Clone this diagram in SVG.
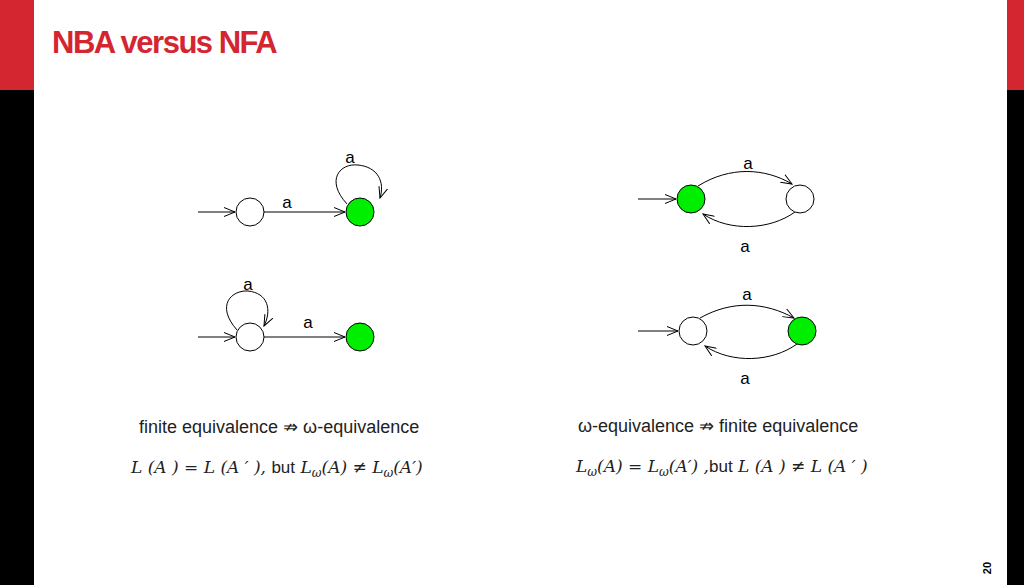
<svg xmlns="http://www.w3.org/2000/svg" width="1024" height="585" viewBox="0 0 1024 585">
<style>
.st{fill:#fff;stroke:#000;stroke-width:1}
.acc{fill:#00ee00;stroke:#000;stroke-width:1}
.e{fill:none;stroke:#000;stroke-width:1;marker-end:url(#ah)}
.lb{font-family:"Liberation Sans",Arial,sans-serif;font-size:17px;fill:#000;text-anchor:middle}
.tx{font-family:"Liberation Sans",Arial,sans-serif;font-size:18px;fill:#222}
.m{font-family:"DejaVu Serif","Liberation Serif",serif;font-style:italic;font-size:17px;fill:#222}
</style>
<defs>
<marker id="ah" viewBox="0 0 12 10" refX="11" refY="5" markerWidth="12" markerHeight="10" markerUnits="userSpaceOnUse" orient="auto">
<polyline points="0,0.5 11,5 0,9.5" fill="none" stroke="#000" stroke-width="1"/>
</marker>
</defs>
<rect x="0" y="0" width="1024" height="585" fill="#fff"/>
<rect x="0" y="0" width="34" height="90" fill="#d32630"/>
<rect x="0" y="90" width="34" height="495" fill="#000"/>
<rect x="1007" y="0" width="17" height="90" fill="#d32630"/>
<rect x="1007" y="90" width="17" height="495" fill="#000"/>
<text x="52" y="53" font-family="Liberation Sans,Arial,sans-serif" font-weight="bold" font-size="31" fill="#d32630" letter-spacing="-1.5">NBA versus NFA</text>
<text transform="translate(991,568) rotate(-90)" font-family="Liberation Sans,Arial,sans-serif" font-weight="bold" font-size="11" fill="#000" text-anchor="middle">20</text>
<g id="connectors">
<line class="e" x1="198" y1="212" x2="235" y2="212"/>
<line class="e" x1="264" y1="212" x2="345" y2="212"/>
<path class="e" d="M347,204 C325,180 340,163 358,165 C378,167 385,182 380,198"/>
<line class="e" x1="198" y1="337" x2="235" y2="337"/>
<line class="e" x1="264" y1="337" x2="345" y2="337"/>
<path class="e" d="M237,330 C215,305 232,290 248,291 C268,293 272,310 264,326"/>
<line class="e" x1="638" y1="199" x2="676" y2="199"/>
<path class="e" d="M698,186 C730,166 765,168 792,184"/>
<path class="e" d="M795,212 C770,230 730,232 703,214"/>
<line class="e" x1="638" y1="331" x2="678" y2="331"/>
<path class="e" d="M700,318 C732,300 765,302 794,318"/>
<path class="e" d="M797,344 C772,362 732,364 705,346"/>
</g>
<g id="labels">
<text class="lb" x="350" y="163">a</text>
<text class="lb" x="287" y="208">a</text>
<text class="lb" x="248" y="290">a</text>
<text class="lb" x="308" y="328">a</text>
<text class="lb" x="748" y="169">a</text>
<text class="lb" x="745" y="252">a</text>
<text class="lb" x="747" y="300">a</text>
<text class="lb" x="745" y="384">a</text>
</g>
<g id="n1"><circle class="st" cx="250" cy="212" r="14"/></g>
<g id="n2"><circle class="acc" cx="360" cy="212" r="14"/></g>
<g id="n3"><circle class="st" cx="250" cy="337" r="14"/></g>
<g id="n4"><circle class="acc" cx="360" cy="337" r="14"/></g>
<g id="n5"><circle class="acc" cx="691" cy="199" r="14"/></g>
<g id="n6"><circle class="st" cx="800" cy="199" r="14"/></g>
<g id="n7"><circle class="st" cx="693" cy="331" r="14"/></g>
<g id="n8"><circle class="acc" cx="802" cy="331" r="14"/></g>
<text class="tx" x="139" y="433">finite equivalence ⇏ ω-equivalence</text>
<text class="tx" x="578" y="432">ω-equivalence ⇏ finite equivalence</text>
<text class="m" x="131" y="473">L (A ) = L (A ′ ), <tspan font-family="Liberation Sans,Arial,sans-serif" font-style="normal">but</tspan> L<tspan font-size="12" dy="4">ω</tspan><tspan dy="-4">(A) ≠ L</tspan><tspan font-size="12" dy="4">ω</tspan><tspan dy="-4">(A′)</tspan></text>
<text class="m" x="576" y="472">L<tspan font-size="12" dy="4">ω</tspan><tspan dy="-4">(A) = L</tspan><tspan font-size="12" dy="4">ω</tspan><tspan dy="-4">(A′) ,</tspan><tspan font-family="Liberation Sans,Arial,sans-serif" font-style="normal">but</tspan> L (A ) ≠ L (A ′ )</text>
</svg>
